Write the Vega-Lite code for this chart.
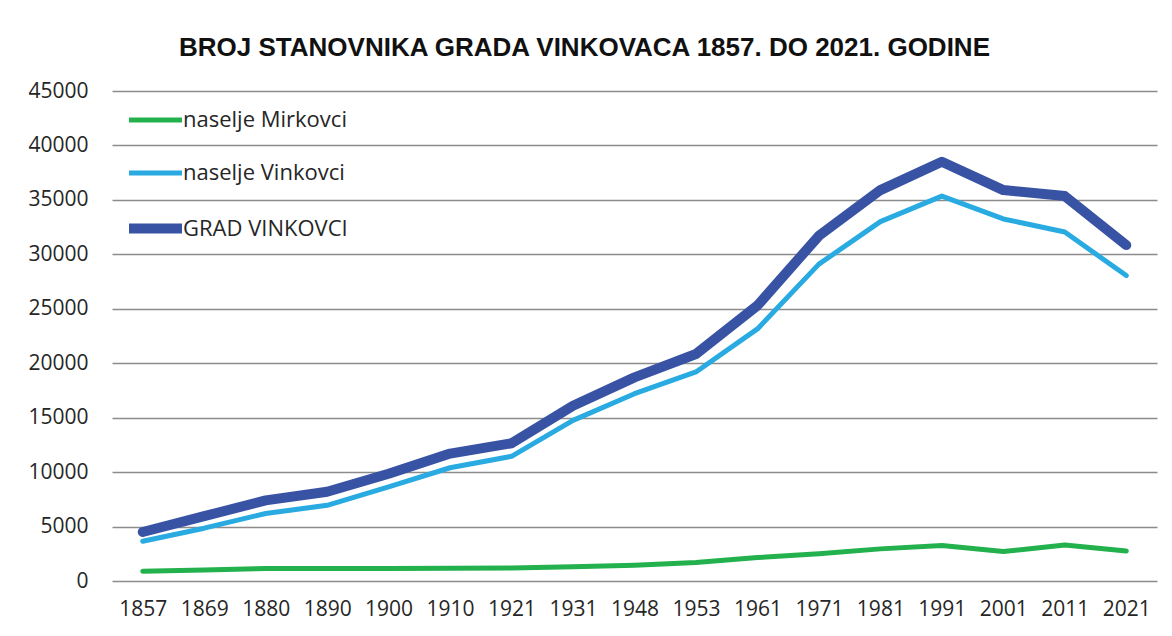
{
  "$schema": "https://vega.github.io/schema/vega-lite/v6.json",
  "width": 1045,
  "height": 490,
  "autosize": "none",
  "padding": {"left": 112, "top": 91, "right": 15, "bottom": 55},
  "background": "white",
  "title": {
    "text": "BROJ STANOVNIKA GRADA VINKOVACA 1857. DO 2021. GODINE",
    "font": "Liberation Sans",
    "fontSize": 26,
    "fontWeight": "bold",
    "color": "#111111",
    "anchor": "middle",
    "dx": -50,
    "offset": 19
  },
  "data": {
    "values": [
      {"godina": "1857", "serija": "naselje Mirkovci", "broj": 900},
      {"godina": "1869", "serija": "naselje Mirkovci", "broj": 1000},
      {"godina": "1880", "serija": "naselje Mirkovci", "broj": 1150},
      {"godina": "1890", "serija": "naselje Mirkovci", "broj": 1150},
      {"godina": "1900", "serija": "naselje Mirkovci", "broj": 1150},
      {"godina": "1910", "serija": "naselje Mirkovci", "broj": 1170},
      {"godina": "1921", "serija": "naselje Mirkovci", "broj": 1200},
      {"godina": "1931", "serija": "naselje Mirkovci", "broj": 1300},
      {"godina": "1948", "serija": "naselje Mirkovci", "broj": 1450},
      {"godina": "1953", "serija": "naselje Mirkovci", "broj": 1700},
      {"godina": "1961", "serija": "naselje Mirkovci", "broj": 2150},
      {"godina": "1971", "serija": "naselje Mirkovci", "broj": 2500},
      {"godina": "1981", "serija": "naselje Mirkovci", "broj": 2950},
      {"godina": "1991", "serija": "naselje Mirkovci", "broj": 3250},
      {"godina": "2001", "serija": "naselje Mirkovci", "broj": 2700},
      {"godina": "2011", "serija": "naselje Mirkovci", "broj": 3300},
      {"godina": "2021", "serija": "naselje Mirkovci", "broj": 2750},
      {"godina": "1857", "serija": "naselje Vinkovci", "broj": 3650},
      {"godina": "1869", "serija": "naselje Vinkovci", "broj": 4850},
      {"godina": "1880", "serija": "naselje Vinkovci", "broj": 6200},
      {"godina": "1890", "serija": "naselje Vinkovci", "broj": 6950},
      {"godina": "1900", "serija": "naselje Vinkovci", "broj": 8650},
      {"godina": "1910", "serija": "naselje Vinkovci", "broj": 10400},
      {"godina": "1921", "serija": "naselje Vinkovci", "broj": 11450},
      {"godina": "1931", "serija": "naselje Vinkovci", "broj": 14750},
      {"godina": "1948", "serija": "naselje Vinkovci", "broj": 17200},
      {"godina": "1953", "serija": "naselje Vinkovci", "broj": 19200},
      {"godina": "1961", "serija": "naselje Vinkovci", "broj": 23150},
      {"godina": "1971", "serija": "naselje Vinkovci", "broj": 29100},
      {"godina": "1981", "serija": "naselje Vinkovci", "broj": 33000},
      {"godina": "1991", "serija": "naselje Vinkovci", "broj": 35350},
      {"godina": "2001", "serija": "naselje Vinkovci", "broj": 33250},
      {"godina": "2011", "serija": "naselje Vinkovci", "broj": 32050},
      {"godina": "2021", "serija": "naselje Vinkovci", "broj": 28050},
      {"godina": "1857", "serija": "GRAD VINKOVCI", "broj": 4500},
      {"godina": "1869", "serija": "GRAD VINKOVCI", "broj": 5950},
      {"godina": "1880", "serija": "GRAD VINKOVCI", "broj": 7400},
      {"godina": "1890", "serija": "GRAD VINKOVCI", "broj": 8200},
      {"godina": "1900", "serija": "GRAD VINKOVCI", "broj": 9850},
      {"godina": "1910", "serija": "GRAD VINKOVCI", "broj": 11700},
      {"godina": "1921", "serija": "GRAD VINKOVCI", "broj": 12650},
      {"godina": "1931", "serija": "GRAD VINKOVCI", "broj": 16100},
      {"godina": "1948", "serija": "GRAD VINKOVCI", "broj": 18700},
      {"godina": "1953", "serija": "GRAD VINKOVCI", "broj": 20850},
      {"godina": "1961", "serija": "GRAD VINKOVCI", "broj": 25300},
      {"godina": "1971", "serija": "GRAD VINKOVCI", "broj": 31700},
      {"godina": "1981", "serija": "GRAD VINKOVCI", "broj": 35900},
      {"godina": "1991", "serija": "GRAD VINKOVCI", "broj": 38500},
      {"godina": "2001", "serija": "GRAD VINKOVCI", "broj": 35900},
      {"godina": "2011", "serija": "GRAD VINKOVCI", "broj": 35350},
      {"godina": "2021", "serija": "GRAD VINKOVCI", "broj": 30850}
    ]
  },
  "mark": {"type": "line", "strokeCap": "round", "strokeJoin": "round"},
  "encoding": {
    "x": {
      "field": "godina",
      "type": "ordinal",
      "sort": null,
      "axis": {"title": null, "labelAngle": 0, "grid": false, "domain": false, "ticks": false, "labelPadding": 17}
    },
    "y": {
      "field": "broj",
      "type": "quantitative",
      "scale": {"domain": [0, 45000], "nice": false},
      "axis": {
        "title": null,
        "values": [0, 5000, 10000, 15000, 20000, 25000, 30000, 35000, 40000, 45000],
        "format": "d",
        "grid": true,
        "domain": false,
        "ticks": false,
        "labelPadding": 24
      }
    },
    "color": {
      "field": "serija",
      "type": "nominal",
      "sort": ["naselje Mirkovci", "naselje Vinkovci", "GRAD VINKOVCI"],
      "scale": {
        "domain": ["naselje Mirkovci", "naselje Vinkovci", "GRAD VINKOVCI"],
        "range": ["#22b14c", "#29abe2", "#3953a4"]
      },
      "legend": {
        "title": null,
        "orient": "none",
        "legendX": 12,
        "legendY": 0,
        "symbolType": "stroke",
        "symbolSize": 2809,
        "labelFont": "Open Sans",
        "labelFontSize": 22,
        "labelColor": "#262626",
        "labelOffset": -4,
        "labelLimit": 400,
        "rowPadding": 13,
        "padding": 0
      }
    },
    "strokeWidth": {
      "field": "serija",
      "type": "nominal",
      "sort": ["naselje Mirkovci", "naselje Vinkovci", "GRAD VINKOVCI"],
      "scale": {
        "type": "ordinal",
        "domain": ["naselje Mirkovci", "naselje Vinkovci", "GRAD VINKOVCI"],
        "range": [5, 5, 10]
      },
      "legend": {
        "title": null,
        "orient": "none",
        "legendX": 12,
        "legendY": 0,
        "symbolType": "stroke",
        "symbolSize": 2809,
        "labelFont": "Open Sans",
        "labelFontSize": 22,
        "labelColor": "#262626",
        "labelOffset": -4,
        "labelLimit": 400,
        "rowPadding": 13,
        "padding": 0
      }
    }
  },
  "config": {
    "view": {"stroke": null},
    "axis": {
      "labelFont": "Open Sans",
      "labelFontSize": 21,
      "labelColor": "#262626",
      "gridColor": "#8c8c8c",
      "gridWidth": 1.5,
      "gridOpacity": 1
    }
  }
}
